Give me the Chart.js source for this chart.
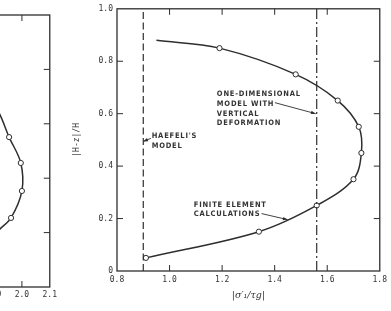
<!DOCTYPE html>
<html>
<head>
<meta charset="utf-8">
<script src="https://cdn.jsdelivr.net/npm/chart.js@4"></script>
<style>
    html, body { margin: 0; padding: 0; background: #fff; overflow: hidden; }
    #wrap { position: relative; width: 391px; height: 311px; overflow: hidden; }
    #left-chart { position: absolute; left: -250px; top: 0; }
    #main-chart { position: absolute; left: 0; top: 0; }
</style>
</head>
<body>
<div id="wrap">
    <canvas id="left-chart" width="310" height="311"></canvas>
    <canvas id="main-chart" width="391" height="311"></canvas>
</div>
<script>
// Finite element curve (main panel); last point is the curve end, no marker
const feX = [0.91, 1.34, 1.56, 1.70, 1.73, 1.72, 1.64, 1.48, 1.19, 0.95];
const feY = [0.05, 0.15, 0.25, 0.35, 0.45, 0.55, 0.65, 0.75, 0.85, 0.88];
const feMarked = [1, 1, 1, 1, 1, 1, 1, 1, 1, 0];

// model lines
const haefeliX = 0.9;
const oneDimX = 1.56;

// neighbouring panel (cut off at the left edge)
const leftX = [1.86, 1.918, 1.954, 1.996, 2.0, 1.961, 1.918, 1.84];
const leftY = [0.74, 0.64, 0.551, 0.456, 0.353, 0.254, 0.21, 0.12];
const leftMarked = [0, 0, 1, 1, 1, 1, 0, 0];

const xTicksMain = [0.8, 1.8, 0.2];   // min, max, step
const yTicks = [0, 1.0, 0.2];
const xTicksLeft = [1.2, 2.1, 0.1];

const INK = '#2e2e2e';
const TEXT = '#333';
const MONO = "'DejaVu Sans Mono', monospace";
const NOTE_FONT = "bold 7.5px 'DejaVu Sans', sans-serif";

const toPts = (xs, ys) => xs.map((x, i) => ({ x, y: ys[i] }));
const fmt = v => Math.abs(v) < 1e-9 ? '0' : v.toFixed(1);

// box frame plus short ticks pointing inwards
const frameTicks = {
    id: 'frameTicks',
    afterDatasetsDraw(chart, args, opts) {
        const { ctx, chartArea: a, scales: { x, y } } = chart;
        const len = 6;
        ctx.save();
        ctx.strokeStyle = INK;
        ctx.lineWidth = 1.3;
        ctx.strokeRect(a.left, a.top, a.right - a.left, a.bottom - a.top);
        ctx.lineWidth = 1;
        const seg = (x1, y1, x2, y2) => { ctx.beginPath(); ctx.moveTo(x1, y1); ctx.lineTo(x2, y2); ctx.stroke(); };
        x.ticks.forEach(t => {
            const px = x.getPixelForValue(t.value);
            if (px <= a.left + 1 || px >= a.right - 1) return;
            if (opts.bottom) seg(px, a.bottom, px, a.bottom - len);
            if (opts.top) seg(px, a.top, px, a.top + len);
        });
        y.ticks.forEach(t => {
            const py = y.getPixelForValue(t.value);
            if (py <= a.top + 1 || py >= a.bottom - 1) return;
            if (opts.left) seg(a.left, py, a.left + len, py);
            if (opts.right) seg(a.right, py, a.right - len, py);
        });
        ctx.restore();
    }
};

// labels and arrows, anchored in data units
const notes = {
    id: 'notes',
    afterDatasetsDraw(chart, args, opts) {
        const { ctx, scales: { x, y } } = chart;
        ctx.save();
        ctx.fillStyle = TEXT;
        ctx.strokeStyle = INK;
        ctx.font = NOTE_FONT;
        ctx.fontStretch = 'condensed';
        ctx.textBaseline = 'middle';
        // spread the letters the way the typed labels are spaced
        ctx.letterSpacing = '0px';
        const ref = 'ONE-DIMENSIONAL';
        const spacing = Math.max(0.3, (opts.refWidth - ctx.measureText(ref).width) / ref.length);
        ctx.letterSpacing = spacing.toFixed(2) + 'px';
        (opts.texts || []).forEach(n => {
            const px = x.getPixelForValue(n.x);
            const py = y.getPixelForValue(n.y);
            n.lines.forEach((s, i) => ctx.fillText(s, px, py + i * 9.8));
        });
        ctx.lineWidth = 0.9;
        (opts.arrows || []).forEach(ar => {
            const x1 = x.getPixelForValue(ar.from[0]), y1 = y.getPixelForValue(ar.from[1]);
            const x2 = x.getPixelForValue(ar.to[0]), y2 = y.getPixelForValue(ar.to[1]);
            ctx.beginPath(); ctx.moveTo(x1, y1); ctx.lineTo(x2, y2); ctx.stroke();
            const ang = Math.atan2(y2 - y1, x2 - x1);
            ctx.beginPath();
            ctx.moveTo(x2, y2);
            ctx.lineTo(x2 - 5 * Math.cos(ang - 0.35), y2 - 5 * Math.sin(ang - 0.35));
            ctx.lineTo(x2 - 5 * Math.cos(ang + 0.35), y2 - 5 * Math.sin(ang + 0.35));
            ctx.closePath();
            ctx.fillStyle = INK;
            ctx.fill();
        });
        ctx.restore();
    }
};

const curveSet = (xs, ys, marked) => ({
    data: toPts(xs, ys),
    showLine: true,
    tension: 0.35,
    borderColor: INK,
    borderWidth: 1.5,
    pointRadius: marked.map(m => m ? 2.6 : 0),
    pointBackgroundColor: '#fff',
    pointBorderColor: INK,
    pointBorderWidth: 1
});

const vline = (v, dash) => ({
    data: [{ x: v, y: yTicks[0] }, { x: v, y: yTicks[1] }],
    showLine: true,
    borderColor: INK,
    borderWidth: 1.2,
    borderDash: dash,
    pointRadius: 0
});

// left panel
new Chart(document.getElementById('left-chart'), {
    type: 'scatter',
    data: { datasets: [curveSet(leftX, leftY, leftMarked)] },
    plugins: [frameTicks],
    options: {
        responsive: false,
        animation: false,
        events: [],
        layout: { autoPadding: false, padding: { left: 49, right: 9, top: 15, bottom: 0 } },
        plugins: { legend: { display: false }, tooltip: { enabled: false },
            frameTicks: { top: true, bottom: true, right: true } },
        scales: {
            x: {
                type: 'linear', min: xTicksLeft[0], max: xTicksLeft[1],
                afterFit: s => { s.height = 24; },
                grid: { display: false, drawTicks: false },
                border: { display: false },
                ticks: { stepSize: xTicksLeft[2], autoSkip: false, maxRotation: 0, padding: 3,
                    color: TEXT, font: { family: MONO, size: 8 }, callback: fmt }
            },
            y: { display: false, min: yTicks[0], max: yTicks[1], ticks: { stepSize: yTicks[2] } }
        }
    }
});

// main panel
new Chart(document.getElementById('main-chart'), {
    type: 'scatter',
    data: {
        datasets: [
            vline(haefeliX, [7, 3.5]),
            vline(oneDimX, [10, 3, 2, 3]),
            curveSet(feX, feY, feMarked)
        ]
    },
    plugins: [frameTicks, notes],
    options: {
        responsive: false,
        animation: false,
        events: [],
        layout: { autoPadding: false, padding: { left: 0, right: 3, top: 6, bottom: 0 } },
        plugins: {
            legend: { display: false },
            tooltip: { enabled: false },
            frameTicks: { top: true, bottom: true, left: true, right: true },
            notes: {
                refWidth: 84,
                texts: [
                    { lines: ["HAEFELI'S", 'MODEL'], x: 0.932, y: 0.513 },
                    { lines: ['ONE-DIMENSIONAL', 'MODEL WITH', 'VERTICAL', 'DEFORMATION'], x: 1.18, y: 0.675 },
                    { lines: ['FINITE ELEMENT', 'CALCULATIONS'], x: 1.092, y: 0.253 }
                ],
                arrows: [
                    { from: [0.929, 0.506], to: [0.9, 0.494] },
                    { from: [1.401, 0.642], to: [1.556, 0.6] },
                    { from: [1.35, 0.219], to: [1.449, 0.196] }
                ]
            }
        },
        scales: {
            x: {
                type: 'linear', min: xTicksMain[0], max: xTicksMain[1],
                afterFit: s => { s.height = 40; },
                grid: { display: false, drawTicks: false },
                border: { display: false },
                ticks: { stepSize: xTicksMain[2], autoSkip: false, maxRotation: 0, padding: 4,
                    color: TEXT, font: { family: MONO, size: 8 }, callback: fmt },
                title: { display: true, text: "|σ′₁/τg|", color: TEXT,
                    font: { family: "'DejaVu Serif', serif", size: 9.5, style: 'italic' },
                    padding: { top: 0, bottom: 10 } }
            },
            y: {
                type: 'linear', min: yTicks[0], max: yTicks[1],
                afterFit: s => { s.width = 117; },
                grid: { display: false, drawTicks: false },
                border: { display: false },
                ticks: { stepSize: yTicks[2], padding: 4, color: TEXT,
                    font: { family: MONO, size: 8 }, callback: fmt },
                title: { display: true, text: '|H-z|/H', color: TEXT,
                    font: { family: MONO, size: 8 }, padding: { top: 72, bottom: 0 } }
            }
        }
    }
});
</script>
</body>
</html>
